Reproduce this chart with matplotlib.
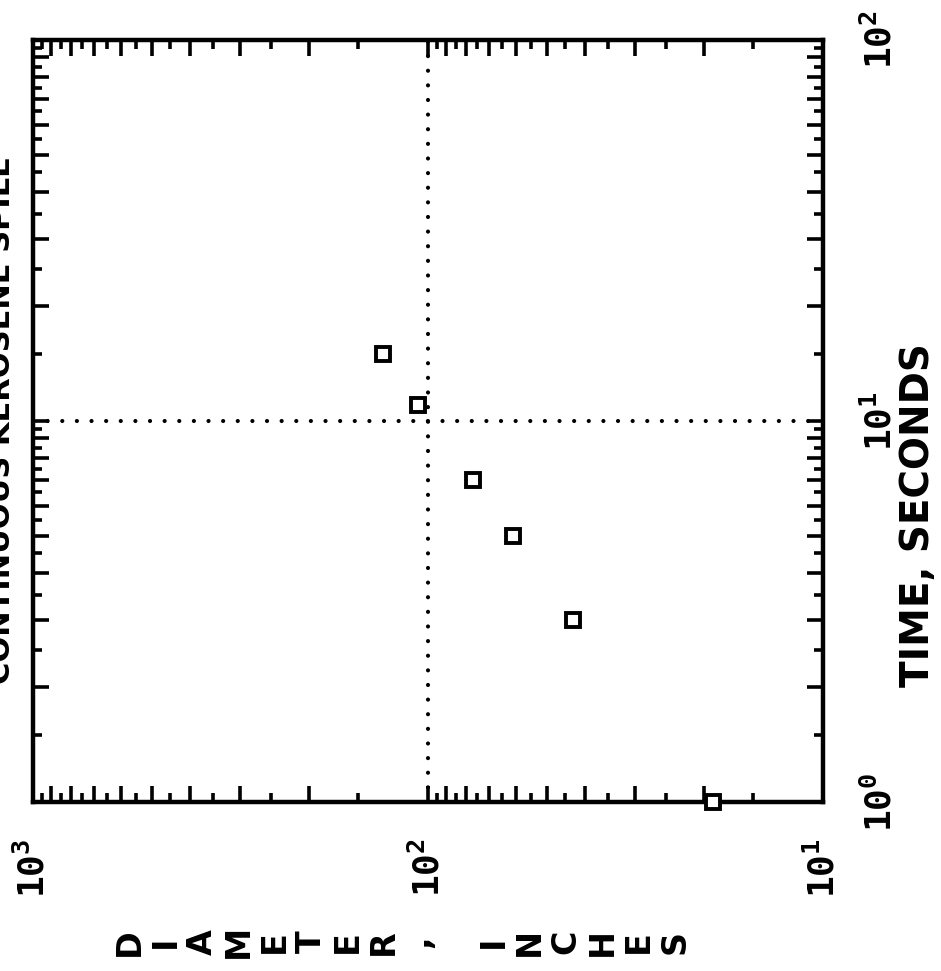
import matplotlib
matplotlib.use("Agg")
import matplotlib.pyplot as plt
from matplotlib.ticker import NullFormatter

plt.rcParams['mathtext.fontset'] = 'custom'
plt.rcParams['mathtext.bf'] = 'DejaVu Sans Mono:bold'
plt.rcParams['mathtext.rm'] = 'DejaVu Sans Mono:bold'

# measured points (time in seconds, diameter in inches)
time_s = [1, 3, 5, 7, 11, 15]
diameter_in = [19, 43, 61, 77, 106, 130]

diam_decades = [10, 100, 1000]
diam_labels = [r'$\mathbf{10^{1}}$', r'$\mathbf{10^{2}}$', r'$\mathbf{10^{3}}$']
time_decades = [1, 10, 100]
time_labels = [r'$\mathbf{10^{0}}$', r'$\mathbf{10^{1}}$', r'$\mathbf{10^{2}}$']

title = 'CONTINUOUS KEROSENE SPILL'
xlabel = 'TIME, SECONDS'
ylabel = 'DIAMETER, INCHES'


def tick_sets(decades):
    # long ticks at integer multiples, short ticks at the halves
    long_t, short_t = [], []
    for d in decades[:-1]:
        long_t += [d * k for k in range(1, 10)]
        short_t += [d * (k + 0.5) for k in range(1, 10)]
    long_t.append(decades[-1])
    return long_t, short_t


fig = plt.figure(figsize=(9.41, 9.71), dpi=100)
ax = fig.add_axes([33 / 941, 169 / 971, 790 / 941, 762 / 971])

ax.set_xscale('log')
ax.set_yscale('log')
ax.set_xlim(1000, 10)
ax.set_ylim(1, 100)

# dotted lines through the middle decade
ax.axvline(100, color='k', lw=3, ls=(0, (0.01, 3.5)), dash_capstyle='round', zorder=2)
ax.axhline(10, color='k', lw=3, ls=(0, (0.01, 3.5)), dash_capstyle='round', zorder=2)

ax.plot(diameter_in, time_s, ls='none', marker='s', ms=10, mfc='white',
        mec='black', mew=2.8, clip_on=False, zorder=5)

for s in ax.spines.values():
    s.set_linewidth(3.2)

xl, xs = tick_sets(diam_decades)
yl, ys = tick_sets(time_decades)
ax.set_xticks(xl, labels=[diam_labels[diam_decades.index(v)] if v in diam_decades else ''
                          for v in xl])
ax.set_xticks(xs, minor=True)
ax.set_yticks(yl, labels=[time_labels[time_decades.index(v)] if v in time_decades else ''
                          for v in yl])
ax.set_yticks(ys, minor=True)
ax.xaxis.set_minor_formatter(NullFormatter())
ax.yaxis.set_minor_formatter(NullFormatter())

ax.tick_params(which='both', direction='in', top=True, bottom=True, left=True,
               right=True, labelleft=False, labelright=True, width=2.6, color='k')
ax.tick_params(which='major', length=11.5)
ax.tick_params(which='minor', length=6.5)
ax.tick_params(axis='x', which='major', labelsize=26, pad=26, labelrotation=90)
ax.tick_params(axis='y', which='major', labelsize=26, pad=28, labelrotation=90)
for lbl in ax.get_yticklabels():
    lbl.set_va('center')

fig.text(918 / 941, 0.47, xlabel, rotation=90, ha='center', va='center',
         fontsize=28, fontweight='bold', family='DejaVu Sans')
fig.text(402 / 941, 0.03, '\n'.join(ylabel), rotation=90, ha='center', va='center',
         fontsize=24, fontweight='bold', family='DejaVu Sans', linespacing=1.13)
# title is mostly cut off at the left edge of the scan
fig.text(16 / 941, 0.567, title, rotation=90, ha='right', va='center',
         fontsize=22, fontweight='bold', family='DejaVu Sans')

fig.savefig('out.png', dpi=100)
